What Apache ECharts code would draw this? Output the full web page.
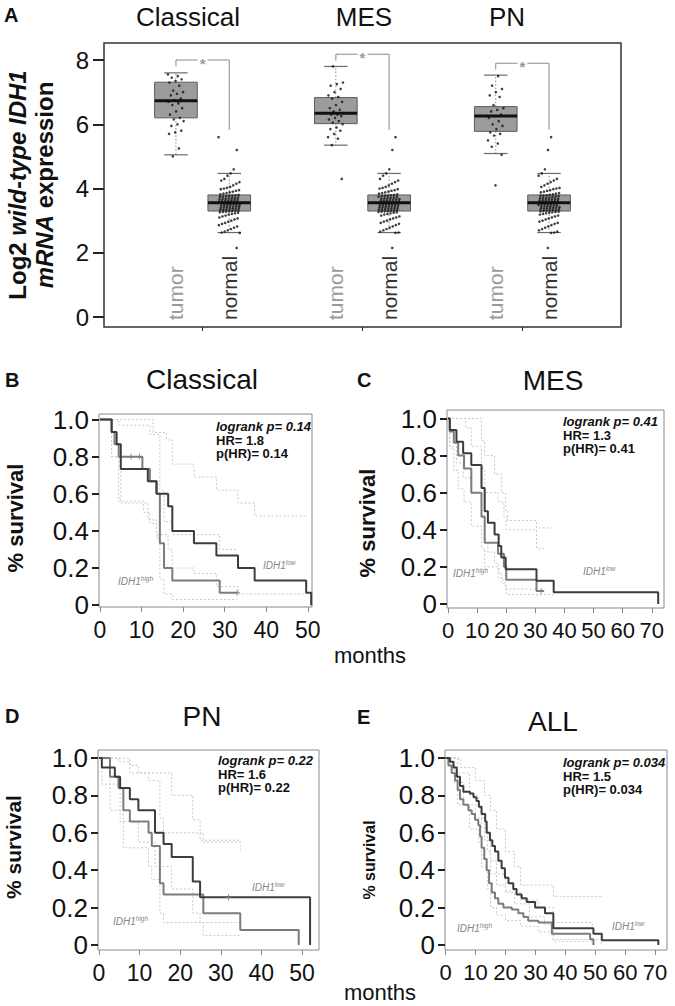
<!DOCTYPE html>
<html><head><meta charset="utf-8">
<script src="https://cdn.jsdelivr.net/npm/echarts@6/dist/echarts.min.js"></script>
<style>html,body{margin:0;padding:0;background:#fff}#c{width:675px;height:1006px}</style>
</head><body><div id="c"></div>
<script>
// ---------- Panel A data ----------
const groups = ['Classical', 'MES', 'PN'];
const sampleTypes = ['tumor', 'normal'];
const yTicksA = [0, 2, 4, 6, 8];
const classicalTumor = [7.55,7.5,7.45,7.4,7.35,7.3,7.2,7.05,7.0,6.95,6.9,6.8,6.75,6.7,6.65,6.6,6.5,6.4,6.3,6.2,6.15,6.1,6.0,5.95,5.8,5.75,5.7,5.25,5.0];
const mesTumor = [7.8,7.3,7.25,7.2,7.1,7.0,6.9,6.85,6.8,6.7,6.6,6.5,6.45,6.4,6.35,6.3,6.3,6.25,6.2,6.15,6.1,6.05,6.0,5.9,5.85,5.8,5.7,5.6,5.55,5.35,4.3];
const pnTumor = [7.5,7.2,7.1,7.0,6.9,6.85,6.6,6.5,6.45,6.4,6.3,6.25,6.2,6.1,6.0,5.95,5.85,5.75,5.7,5.65,5.5,5.4,5.3,5.05,4.1];
const normalTissue = [5.6,5.2,4.6,4.47,4.4,4.3,4.25,4.2,4.15,4.1,4.05,4.02,4.0,3.98,3.95,3.93,3.9,3.88,3.86,3.84,3.82,3.8,3.79,3.78,3.77,3.76,3.75,3.74,3.72,3.71,3.7,3.69,3.68,3.67,3.66,3.65,3.64,3.63,3.62,3.61,3.6,3.59,3.58,3.57,3.56,3.55,3.55,3.54,3.53,3.52,3.51,3.5,3.49,3.48,3.47,3.46,3.45,3.44,3.43,3.42,3.41,3.4,3.39,3.38,3.37,3.36,3.35,3.34,3.33,3.32,3.31,3.3,3.29,3.28,3.27,3.26,3.25,3.23,3.21,3.19,3.16,3.13,3.1,3.07,3.04,3.0,2.97,2.93,2.9,2.86,2.82,2.78,2.74,2.7,2.66,2.63,2.62,2.15];
// box stats: [lower whisker, Q1, median, Q3, upper whisker]
const classicalTumorBox = [5.05, 6.2, 6.73, 7.31, 7.6];
const mesTumorBox = [5.35, 6.02, 6.34, 6.83, 7.8];
const pnTumorBox = [5.09, 5.78, 6.26, 6.55, 7.53];
const normalBox = [2.63, 3.3, 3.56, 3.8, 4.47];
const bracketTop = [8.0, 8.18, 7.9];
const bracketNormalEnd = 5.83;

// ---------- Kaplan-Meier data [months, survival] ----------
const kmYTicks = [0, 0.2, 0.4, 0.6, 0.8, 1.0];
const monthTicks50 = [0, 10, 20, 30, 40, 50];
const monthTicks70 = [0, 10, 20, 30, 40, 50, 60, 70];
// B Classical
const bLow = [[0,1],[2.8,0.933],[4,0.867],[5,0.733],[11.5,0.667],[13.6,0.6],[16.4,0.533],[17.4,0.4],[22.6,0.333],[28,0.267],[33.2,0.2],[37.2,0.133],[49.6,0.067],[50.8,0]];
const bHigh = [[0,1],[2.8,0.933],[3.5,0.867],[4.5,0.8],[10.2,0.733],[12,0.667],[13.6,0.6],[14.4,0.333],[15.4,0.2],[17.4,0.133],[28.8,0.067],[33,0.067]];
const bLowUp = [[0,1],[12.8,0.93],[16,0.89],[17.4,0.76],[22.6,0.69],[28,0.62],[33.2,0.55],[37.2,0.48],[49.6,0.48]];
const bLowLo = [[0,1],[2.8,0.8],[5,0.55],[11.5,0.46],[13.6,0.38],[16.4,0.3],[17.4,0.2],[22.6,0.17],[28,0.1],[33.2,0.06],[49.6,0.06]];
const bHighUp = [[0,1],[4.5,0.97],[12,0.92],[14.4,0.62],[15.4,0.45],[17.4,0.38],[28.8,0.3],[33,0.3]];
const bHighLo = [[0,1],[2.8,0.8],[4.5,0.56],[10.5,0.5],[12,0.44],[13.6,0.36],[14.4,0.14],[15.4,0.06],[17.4,0.03],[33,0.03]];
const bCensor = [[7.5,0.8],[9.5,0.8],[33,0.067]];
const bStats = ['logrank p= 0.14', 'HR= 1.8', 'p(HR)= 0.14'];
// C MES
const cLow = [[0,1],[0.6,0.9375],[2.9,0.875],[5.2,0.8125],[8,0.75],[11.5,0.625],[12.6,0.5],[13.7,0.4375],[16,0.375],[17.4,0.3125],[18.3,0.25],[19.8,0.1875],[30.4,0.125],[36.3,0.0625],[72.2,0]];
const cHigh = [[0,1],[0.6,0.93],[2,0.87],[3.5,0.8],[5.5,0.73],[8,0.6],[11.5,0.47],[12.6,0.33],[17.2,0.27],[19.2,0.2],[20,0.13],[30.4,0.07],[33,0.07]];
const cLowUp = [[0,1],[9,1],[11.5,0.88],[12.6,0.8],[16,0.7],[18.3,0.6],[19.8,0.5],[20.5,0.45],[30.4,0.41],[36.7,0.41]];
const cLowLo = [[0,1],[0.6,0.85],[2.9,0.76],[5.2,0.68],[8,0.6],[11.5,0.48],[12.6,0.33],[13.7,0.28],[16,0.22],[17.4,0.17],[18.3,0.12],[19.8,0.08],[30.4,0.05],[36.3,0.05]];
const cHighUp = [[0,1],[3,1],[6,0.95],[8,0.85],[11.5,0.73],[12.6,0.6],[17.2,0.55],[19.2,0.47],[20,0.4],[30.4,0.3],[33,0.3]];
const cHighLo = [[0,1],[0.6,0.84],[2,0.72],[3.5,0.62],[5.5,0.55],[8,0.42],[11.5,0.3],[12.6,0.2],[17.2,0.14],[19.2,0.1],[20,0.05],[33,0.05]];
const cCensor = [[32,0.07]];
const cStats = ['logrank p= 0.41', 'HR= 1.3', 'p(HR)= 0.41'];
// D PN
const dLow = [[0,1],[0.7,0.95],[3.9,0.9],[5.2,0.84],[7.6,0.78],[9.7,0.72],[13.8,0.6],[15.9,0.54],[17.9,0.47],[23.1,0.34],[24.9,0.255],[52,0]];
const dHigh = [[0,1],[2.7,0.9],[4.8,0.84],[6,0.72],[7.6,0.66],[12.2,0.6],[13,0.53],[15,0.33],[15.9,0.27],[25.7,0.17],[34.8,0.08],[49.2,0]];
const dLowUp = [[0,1],[7.6,0.96],[9.7,0.92],[17.9,0.8],[23.1,0.67],[24.9,0.56],[35,0.56]];
const dLowLo = [[0,1],[0.7,0.86],[5.2,0.66],[9.7,0.55],[13.8,0.42],[17.9,0.3],[23.1,0.17],[24.9,0.12],[35,0.12]];
const dHighUp = [[0,1],[4.8,0.98],[7.6,0.92],[12.2,0.88],[15,0.68],[15.9,0.6],[25.7,0.55],[34.8,0.5],[35,0.5]];
const dHighLo = [[0,1],[2.7,0.72],[6,0.52],[12.2,0.42],[13,0.35],[15,0.17],[15.9,0.12],[25.7,0.05],[34.8,0.05]];
const dCensor = [[31.9,0.255]];
const dStats = ['logrank p= 0.22', 'HR= 1.6', 'p(HR)= 0.22'];
// E ALL
const eLow = [[0,1],[1.4,0.98],[2.6,0.95],[3.7,0.9],[4.8,0.85],[5.9,0.82],[8.1,0.81],[9.3,0.79],[10.3,0.77],[11.1,0.74],[12,0.7],[13.2,0.66],[13.7,0.6],[14.8,0.56],[15.6,0.53],[16.5,0.5],[17.6,0.45],[18.7,0.41],[19.8,0.36],[21,0.33],[22.6,0.3],[23.7,0.27],[25.4,0.25],[27.1,0.23],[29.9,0.2],[33.2,0.17],[36,0.09],[49.4,0.06],[52.2,0.025],[71.1,0]];
const eHigh = [[0,1],[0.9,0.96],[2,0.92],[3.1,0.88],[4,0.83],[4.8,0.78],[5.9,0.75],[7.6,0.72],[8.7,0.7],[9.8,0.67],[10.9,0.64],[11.5,0.58],[12,0.52],[12.9,0.46],[13.7,0.4],[14.5,0.33],[15.4,0.28],[16.5,0.25],[17.6,0.22],[19.3,0.2],[22.1,0.19],[24.3,0.17],[26,0.15],[27.6,0.13],[31,0.12],[35.5,0.06],[48.3,0.03],[49.4,0]];
const eLowUp = [[0,1],[5,0.95],[10,0.88],[13,0.8],[15,0.72],[17,0.62],[20,0.5],[23,0.42],[25,0.32],[36,0.26],[52,0.26]];
const eLowLo = [[0,1],[3,0.87],[6,0.75],[10,0.68],[13,0.56],[15,0.45],[17,0.38],[20,0.29],[23,0.22],[28,0.15],[33,0.11],[36,0.03],[52,0.0]];
const eHighUp = [[0,1],[4,0.92],[8,0.8],[11,0.73],[12,0.63],[14,0.5],[15,0.38],[17,0.32],[20,0.28],[25,0.24],[31,0.2],[36,0.12],[49,0.1]];
const eHighLo = [[0,1],[4,0.75],[8,0.62],[11,0.55],[12,0.42],[14,0.3],[15,0.2],[17,0.16],[20,0.13],[25,0.1],[31,0.07],[36,0.02],[49,0]];
const eStats = ['logrank p= 0.034', 'HR= 1.5', 'p(HR)= 0.034'];

// ---------- build ----------
const chart = echarts.init(document.getElementById('c'), null, {renderer: 'svg', width: 675, height: 1006});
const FONT = '"Liberation Sans", Arial, sans-serif';

const tumorData = [classicalTumor, mesTumor, pnTumor];
const tumorBoxes = [classicalTumorBox, mesTumorBox, pnTumorBox];
const posOf = (g, t) => g * 3 + t; // tumor = 0, normal = 1
const jit = (i, amp) => (((i * 0.6180339887) % 1) - 0.5) * 2 * amp;

const boxData = [], pointData = [], bracketData = [];
groups.forEach((g, gi) => {
  boxData.push([posOf(gi, 0)].concat(tumorBoxes[gi]));
  boxData.push([posOf(gi, 1)].concat(normalBox));
  tumorData[gi].forEach((v, i) => pointData.push([posOf(gi, 0) + jit(i + gi * 7, 0.15), v]));
  normalTissue.forEach((v, i) => pointData.push([posOf(gi, 1) + jit(i * 3 + gi * 11, 0.2), v]));
  bracketData.push([posOf(gi, 0), posOf(gi, 1), bracketTop[gi], bracketTop[gi] - 0.2, bracketNormalEnd]);
});

function renderBox(params, api) {
  const x = api.value(0);
  const c = v => api.coord([x, v]);
  const half = api.size([0.8, 0])[0] / 2;
  const cap = api.size([0.44, 0])[0] / 2;
  const pMin = c(api.value(1)), pQ1 = c(api.value(2)), pMed = c(api.value(3)), pQ3 = c(api.value(4)), pMax = c(api.value(5));
  const cx = pMed[0];
  const dotted = {stroke: '#8a8a8a', lineWidth: 1, lineDash: [1.5, 2]};
  const capStyle = {stroke: '#6a6a6a', lineWidth: 1.2};
  return {type: 'group', children: [
    {type: 'line', shape: {x1: cx, y1: pQ3[1], x2: cx, y2: pMax[1]}, style: dotted},
    {type: 'line', shape: {x1: cx, y1: pQ1[1], x2: cx, y2: pMin[1]}, style: dotted},
    {type: 'line', shape: {x1: cx - cap, y1: pMax[1], x2: cx + cap, y2: pMax[1]}, style: capStyle},
    {type: 'line', shape: {x1: cx - cap, y1: pMin[1], x2: cx + cap, y2: pMin[1]}, style: capStyle},
    {type: 'rect', shape: {x: cx - half, y: pQ3[1], width: half * 2, height: pQ1[1] - pQ3[1]}, style: {fill: '#9c9c9c', stroke: '#5c5c5c', lineWidth: 1}},
    {type: 'line', shape: {x1: cx - half, y1: pMed[1], x2: cx + half, y2: pMed[1]}, style: {stroke: '#111', lineWidth: 3}}
  ]};
}
function renderBracket(params, api) {
  const tx = api.value(0), nx = api.value(1), top = api.value(2), tEnd = api.value(3), nEnd = api.value(4);
  const p1 = api.coord([tx, tEnd]), p2 = api.coord([tx, top]), p3 = api.coord([nx, top]), p4 = api.coord([nx, nEnd]);
  return {type: 'group', children: [
    {type: 'polyline', shape: {points: [p1, p2, p3, p4]}, style: {stroke: '#8a8a8a', lineWidth: 1, fill: 'none'}},
    {type: 'text', x: (p2[0] + p3[0]) / 2, y: p2[1] + 3, style: {text: '*', fill: '#999', font: 'bold 15px ' + FONT, align: 'center', verticalAlign: 'middle', backgroundColor: '#fff', padding: [0, 2]}}
  ]};
}

const panels = [
  {low: bLow, high: bHigh, lu: bLowUp, ll: bLowLo, hu: bHighUp, hl: bHighLo, cens: bCensor, ticks: monthTicks50, grid: {left: 99, top: 414, width: 213, height: 193}, xr: [-0.24, 51], yr: [-0.01, 1.03], xs: 23},
  {low: cLow, high: cHigh, lu: cLowUp, ll: cLowLo, hu: cHighUp, hl: cHighLo, cens: cCensor, ticks: monthTicks70, grid: {left: 447, top: 410, width: 217, height: 198}, xr: [-0.35, 74.2], yr: [-0.022, 1.046], xs: 22},
  {low: dLow, high: dHigh, lu: dLowUp, ll: dLowLo, hu: dHighUp, hl: dHighLo, cens: dCensor, ticks: monthTicks50, grid: {left: 98, top: 750, width: 221, height: 200}, xr: [-0.25, 54.2], yr: [-0.027, 1.043], xs: 23},
  {low: eLow, high: eHigh, lu: eLowUp, ll: eLowLo, hu: eHighUp, hl: eHighLo, cens: [], ticks: monthTicks70, grid: {left: 445, top: 750, width: 222, height: 200}, xr: [-0.23, 74], yr: [-0.027, 1.043], xs: 22}
];

const noLine = {show: false, onZero: false};
const grids = [{left: 104, top: 43, width: 517, height: 284, show: true, borderColor: '#333', borderWidth: 1.5, backgroundColor: 'transparent'}];
const xAxes = [{
  type: 'value', gridIndex: 0, min: -1.35, max: 8.35, position: 'bottom',
  splitLine: {show: false}, axisLine: noLine,
  axisTick: {show: true, customValues: [0.5, 3.5, 6.5], length: 4, lineStyle: {color: '#333'}},
  axisLabel: {show: true, inside: true, rotate: 90, margin: 7, customValues: [0, 1, 3, 4, 6, 7],
    formatter: v => { const t = Math.round(v) % 3; return t === 0 ? '{t|' + sampleTypes[0] + '}' : '{n|' + sampleTypes[1] + '}'; },
    rich: {t: {color: '#9a9a9a', fontSize: 21, fontFamily: FONT}, n: {color: '#333', fontSize: 21, fontFamily: FONT}}}
}];
const yAxes = [{
  type: 'value', gridIndex: 0, min: -0.31, max: 8.53, position: 'left',
  splitLine: {show: false}, axisLine: noLine,
  axisTick: {show: true, customValues: yTicksA, length: 11, lineStyle: {color: '#222', width: 2}},
  axisLabel: {customValues: yTicksA, margin: 15, fontSize: 24, color: '#111', fontFamily: FONT}
}];
const series = [
  {type: 'custom', xAxisIndex: 0, yAxisIndex: 0, renderItem: renderBox, data: boxData, z: 2},
  {type: 'scatter', xAxisIndex: 0, yAxisIndex: 0, data: pointData, symbolSize: 2.6, itemStyle: {color: '#111'}, z: 3},
  {type: 'custom', xAxisIndex: 0, yAxisIndex: 0, renderItem: renderBracket, data: bracketData, z: 4}
];

panels.forEach((p, i) => {
  const gi = i + 1;
  grids.push(Object.assign({show: true, borderColor: '#8a8a8a', borderWidth: 1, backgroundColor: 'transparent'}, p.grid));
  xAxes.push({type: 'value', gridIndex: gi, min: p.xr[0], max: p.xr[1], position: 'bottom', splitLine: {show: false}, axisLine: noLine,
    axisTick: {show: true, customValues: p.ticks, length: 5, lineStyle: {color: '#888'}},
    axisLabel: {customValues: p.ticks, margin: 11, fontSize: p.xs, color: '#111', fontFamily: FONT}});
  yAxes.push({type: 'value', gridIndex: gi, min: p.yr[0], max: p.yr[1], position: 'left', splitLine: {show: false}, axisLine: noLine,
    axisTick: {show: true, customValues: kmYTicks, length: 7, lineStyle: {color: '#222', width: 2}},
    axisLabel: {customValues: kmYTicks, margin: 10, fontSize: 26, color: '#111', fontFamily: FONT,
      formatter: v => v === 0 ? '0' : v.toFixed(1)}});
  const ci = d => ({type: 'line', step: 'end', xAxisIndex: gi, yAxisIndex: gi, data: d, showSymbol: false, silent: true,
    lineStyle: {color: '#c8c8c8', width: 1, type: [2, 2]}, z: 2});
  series.push(ci(p.lu), ci(p.ll), ci(p.hu), ci(p.hl));
  series.push({type: 'line', step: 'end', xAxisIndex: gi, yAxisIndex: gi, data: p.high, showSymbol: false, lineStyle: {color: '#7c7c7c', width: 2}, z: 3});
  series.push({type: 'line', step: 'end', xAxisIndex: gi, yAxisIndex: gi, data: p.low, showSymbol: false, lineStyle: {color: '#3c3c3c', width: 2}, z: 4});
  if (p.cens.length) series.push({type: 'scatter', xAxisIndex: gi, yAxisIndex: gi, data: p.cens, symbol: 'path://M0,5L10,5M5,0L5,10', symbolSize: 6,
    itemStyle: {color: 'none', borderColor: '#7c7c7c', borderWidth: 1}, z: 5});
});

// ---------- text ----------
const T = (text, x, y, font, opts) => Object.assign({type: 'text', x, y, style: Object.assign({text, font, fill: '#111', align: 'center', verticalAlign: 'middle'}, opts && opts.style)}, opts && opts.el);
const rot = Math.PI / 2;
const statsRich = {
  bi: {font: 'italic bold 13px ' + FONT, fill: '#111', lineHeight: 13.5},
  b: {font: 'bold 13px ' + FONT, fill: '#111', lineHeight: 13.5}
};
const statsText = s => '{bi|' + s[0] + '}\n{b|' + s[1] + '}\n{b|' + s[2] + '}';
const idhRich = {
  i: {font: 'italic 10px ' + FONT, fill: '#858585', lineHeight: 12},
  s: {font: 'italic 6.5px ' + FONT, fill: '#858585', lineHeight: 7, verticalAlign: 'top'}
};
const idh = (tag, x, y) => ({type: 'text', x, y, style: {text: '{i|IDH1}{s|' + tag + '}', rich: idhRich, align: 'left', verticalAlign: 'middle'}});
const ylabRich = {b: {font: 'bold 24px ' + FONT, fill: '#111'}, bi: {font: 'italic bold 24px ' + FONT, fill: '#111'}};

const graphic = [
  T('A', 4, 15, 'bold 20px ' + FONT, {style: {align: 'left'}}),
  T(groups[0], 188, 17, '26px ' + FONT),
  T(groups[1], 364, 17, '26px ' + FONT),
  T(groups[2], 507, 17, '26px ' + FONT),
  {type: 'text', x: 17, y: 185, rotation: rot, style: {text: '{b|Log2 }{bi|wild-type IDH1}', rich: ylabRich, align: 'center', verticalAlign: 'middle'}},
  {type: 'text', x: 44, y: 185, rotation: rot, style: {text: '{bi|mRNA}{b| expression}', rich: ylabRich, align: 'center', verticalAlign: 'middle'}},
  T('B', 5, 380, 'bold 20px ' + FONT, {style: {align: 'left'}}),
  T('Classical', 202, 379, '28px ' + FONT),
  T('C', 357, 380, 'bold 20px ' + FONT, {style: {align: 'left'}}),
  T('MES', 553, 380, '28px ' + FONT),
  T('D', 5, 716, 'bold 20px ' + FONT, {style: {align: 'left'}}),
  T('PN', 202, 716, '28px ' + FONT),
  T('E', 357, 717, 'bold 20px ' + FONT, {style: {align: 'left'}}),
  T('ALL', 553, 721, '28px ' + FONT),
  T('months', 370, 655, '22px ' + FONT),
  T('months', 380, 992, '22px ' + FONT),
  T('% survival', 15, 518, 'bold 22px ' + FONT, {el: {rotation: rot}}),
  T('% survival', 367, 523, 'bold 22px ' + FONT, {el: {rotation: rot}}),
  T('% survival', 13, 847, 'bold 21px ' + FONT, {el: {rotation: rot}}),
  T('% survival', 369, 860, 'bold 16px ' + FONT, {el: {rotation: rot}}),
  {type: 'text', x: 216, y: 420, style: {text: statsText(bStats), rich: statsRich, align: 'left', verticalAlign: 'top'}},
  {type: 'text', x: 563, y: 415, style: {text: statsText(cStats), rich: statsRich, align: 'left', verticalAlign: 'top'}},
  {type: 'text', x: 218, y: 754, style: {text: statsText(dStats), rich: statsRich, align: 'left', verticalAlign: 'top'}},
  {type: 'text', x: 563, y: 756, style: {text: statsText(eStats), rich: statsRich, align: 'left', verticalAlign: 'top'}},
  idh('low', 263, 565), idh('high', 118, 581),
  idh('low', 583, 571), idh('high', 453, 573),
  idh('low', 252, 887), idh('high', 113, 921),
  idh('low', 612, 926), idh('high', 457, 928)
];

chart.setOption({
  animation: false,
  backgroundColor: '#fff',
  grid: grids, xAxis: xAxes, yAxis: yAxes, series, graphic
});
</script></body></html>
